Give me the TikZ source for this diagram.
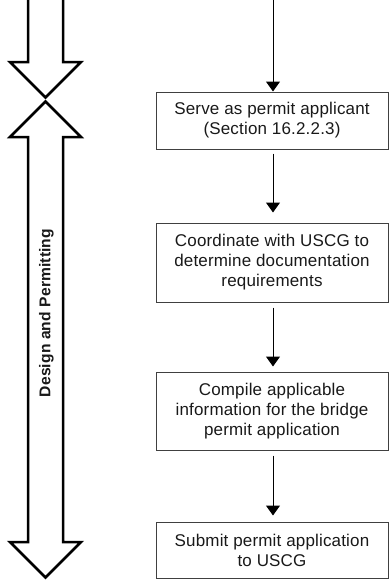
\documentclass[tikz,border=0pt]{standalone}
\usepackage{fontspec}
\setmainfont{Liberation Sans}[LetterSpace=1]
\usetikzlibrary{arrows.meta}
\begin{document}
\begin{tikzpicture}[x=1pt,y=-1pt,
  stepbox/.style={draw=black!75, line width=1pt, minimum width=232pt, align=center,
    font=\fontsize{17}{20}\selectfont, inner sep=0pt, text=black!90},
  flow/.style={draw=black, line width=1pt, -{Triangle[width=14pt,length=10pt]}},
  bigarrow/.style={draw=black, line width=2.5pt, line join=miter, fill=white},
  phaselabel/.style={rotate=90, font=\bfseries\fontsize{15.6}{18}\selectfont, text=black!90}
]
\useasboundingbox (0,0) rectangle (389,581);
% big phase arrows
\draw[bigarrow] (28,-5) -- (28,62) -- (10,62) -- (45.5,97.5) -- (81,62) -- (63,62) -- (63,-5);
\draw[bigarrow] (45.5,101.5) -- (10,137) -- (28,137) -- (28,542) -- (10,542) -- (45.5,577.5)
  -- (81,542) -- (63,542) -- (63,137) -- (81,137) -- cycle;
\node[phaselabel] (lbl) at (46.5,313) {Design and Permitting};
% boxes
\node[stepbox, minimum height=57pt] (b1) at (272,120.5) {Serve as permit applicant\\(Section 16.2.2.3)};
\node[stepbox, minimum height=79pt] (b2) at (272,262.5) {Coordinate with USCG to\\determine documentation\\requirements};
\node[stepbox, minimum height=78pt] (b3) at (272,411) {Compile applicable\\information for the bridge\\permit application};
\node[stepbox, minimum height=56pt] (b4) at (272,550) {Submit permit application\\to USCG};
\coordinate (top) at (273,-2);
\draw[flow] (top) -- (top |- b1.north);
\draw[flow, shorten <=4pt, shorten >=10pt] ([xshift=1pt]b1.south) -- ([xshift=1pt]b2.north);
\draw[flow, shorten <=5pt, shorten >=5pt] ([xshift=1pt]b2.south) -- ([xshift=1pt]b3.north);
\draw[flow, shorten <=5pt, shorten >=6pt] ([xshift=1pt]b3.south) -- ([xshift=1pt]b4.north);
\end{tikzpicture}
\end{document}
